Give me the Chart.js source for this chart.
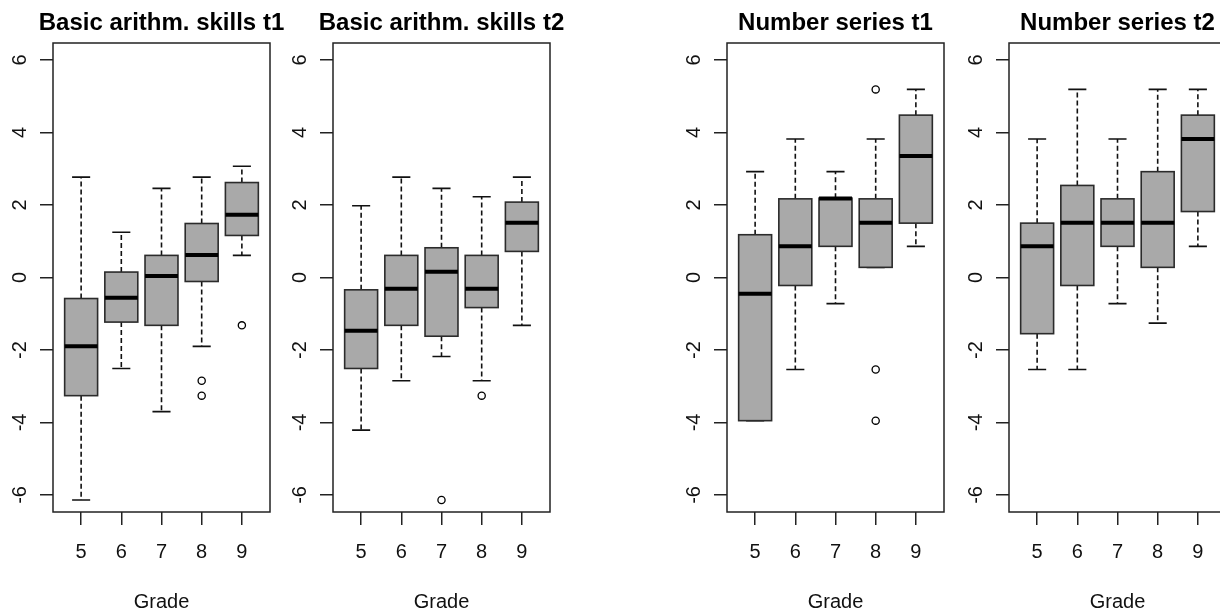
<!DOCTYPE html>
<html>
<head>
<meta charset="utf-8">
<script src="https://cdn.jsdelivr.net/npm/chart.js@4.4.1/dist/chart.umd.min.js"></script>
<style>
  html, body { margin: 0; padding: 0; background: #fff; overflow: hidden; width: 1220px; height: 615px; }
  canvas { position: absolute; top: 0; }
</style>
</head>
<body>
<canvas id="c1" width="310" height="615" style="left:0px"></canvas>
<canvas id="c2" width="310" height="615" style="left:280px"></canvas>
<canvas id="c3" width="310" height="615" style="left:674px"></canvas>
<canvas id="c4" width="310" height="615" style="left:956px"></canvas>
<script>
// categories and axis ticks
const grades = ['5', '6', '7', '8', '9'];
const yTicks = [-6, -4, -2, 0, 2, 4, 6];

// Basic arithm. skills t1
const basicT1Low = [-6.14, -2.51, -3.70, -1.90, 0.61];
const basicT1Q1 = [-3.26, -1.23, -1.32, -0.11, 1.16];
const basicT1Med = [-1.90, -0.56, 0.04, 0.62, 1.73];
const basicT1Q3 = [-0.58, 0.15, 0.61, 1.49, 2.62];
const basicT1High = [2.77, 1.25, 2.46, 2.77, 3.07];
const basicT1OutGrade = ['8', '8', '9'];
const basicT1OutValue = [-2.85, -3.26, -1.32];

// Basic arithm. skills t2
const basicT2Low = [-4.21, -2.85, -2.18, -2.85, -1.32];
const basicT2Q1 = [-2.51, -1.32, -1.62, -0.83, 0.72];
const basicT2Med = [-1.47, -0.31, 0.16, -0.31, 1.51];
const basicT2Q3 = [-0.34, 0.61, 0.82, 0.61, 2.08];
const basicT2High = [1.98, 2.77, 2.46, 2.23, 2.77];
const basicT2OutGrade = ['7', '8'];
const basicT2OutValue = [-6.14, -3.26];

// Number series t1
const seriesT1Low = [-3.95, -2.54, -0.72, 0.28, 0.86];
const seriesT1Q1 = [-3.95, -0.22, 0.86, 0.28, 1.50];
const seriesT1Med = [-0.45, 0.86, 2.18, 1.51, 3.35];
const seriesT1Q3 = [1.18, 2.17, 2.19, 2.17, 4.48];
const seriesT1High = [2.92, 3.82, 2.92, 3.82, 5.19];
const seriesT1OutGrade = ['8', '8', '8'];
const seriesT1OutValue = [5.19, -2.54, -3.95];

// Number series t2
const seriesT2Low = [-2.54, -2.54, -0.72, -1.26, 0.86];
const seriesT2Q1 = [-1.55, -0.22, 0.86, 0.28, 1.82];
const seriesT2Med = [0.86, 1.51, 1.51, 1.51, 3.82];
const seriesT2Q3 = [1.50, 2.54, 2.17, 2.92, 4.48];
const seriesT2High = [3.82, 5.19, 3.82, 5.19, 5.19];
const seriesT2OutGrade = [];
const seriesT2OutValue = [];

const boxWidth = 0.82;   // in x units
const capWidth = 0.45;

// draws whiskers, boxes and medians through the chart's own scales
const boxPlugin = {
  id: 'rbox',
  beforeDatasetsDraw(chart, args, opts) {
    const { ctx, scales: { x, y } } = chart;
    const unit = x.getPixelForValue(2) - x.getPixelForValue(1);
    ctx.save();
    grades.forEach((g, i) => {
      const px = x.getPixelForValue(i + 1);
      const bh = unit * boxWidth / 2;
      const ch = unit * capWidth / 2;
      const lo = y.getPixelForValue(opts.low[i]);
      const q1 = y.getPixelForValue(opts.q1[i]);
      const md = y.getPixelForValue(opts.med[i]);
      const q3 = y.getPixelForValue(opts.q3[i]);
      const hi = y.getPixelForValue(opts.high[i]);

      // whiskers
      ctx.strokeStyle = '#111';
      ctx.lineWidth = 1.6;
      ctx.setLineDash([5, 3]);
      ctx.beginPath();
      ctx.moveTo(px, q3); ctx.lineTo(px, hi);
      ctx.moveTo(px, q1); ctx.lineTo(px, lo);
      ctx.stroke();
      ctx.setLineDash([]);
      // staples
      ctx.beginPath();
      ctx.moveTo(px - ch, hi); ctx.lineTo(px + ch, hi);
      ctx.moveTo(px - ch, lo); ctx.lineTo(px + ch, lo);
      ctx.stroke();
      // box
      ctx.fillStyle = '#a9a9a9';
      ctx.fillRect(px - bh, q3, bh * 2, q1 - q3);
      ctx.strokeStyle = '#2b2b2b';
      ctx.lineWidth = 1.6;
      ctx.strokeRect(px - bh, q3, bh * 2, q1 - q3);
      // median
      ctx.strokeStyle = '#000';
      ctx.lineWidth = 4;
      ctx.beginPath();
      ctx.moveTo(px - bh, md); ctx.lineTo(px + bh, md);
      ctx.stroke();
    });
    ctx.restore();
  },
  afterDraw(chart, args, opts) {
    const { ctx, chartArea: a } = chart;
    ctx.save();
    ctx.strokeStyle = '#222';
    ctx.lineWidth = 1.5;
    ctx.strokeRect(a.left, a.top, a.right - a.left, a.bottom - a.top);
    ctx.fillStyle = '#000';
    ctx.font = 'bold 24px "Liberation Sans", Arial, sans-serif';
    ctx.textAlign = 'center';
    ctx.textBaseline = 'alphabetic';
    ctx.fillText(opts.title, (a.left + a.right) / 2, 30);
    ctx.restore();
  }
};

const font20 = { family: '"Liberation Sans", Arial, sans-serif', size: 20 };

function makeChart(id, title, low, q1, med, q3, high, outGrade, outValue) {
  const outliers = outGrade.map((g, k) => ({ x: grades.indexOf(g) + 1, y: outValue[k] }));
  return new Chart(document.getElementById(id), {
    type: 'scatter',
    data: {
      datasets: [{
        data: outliers,
        pointStyle: 'circle',
        pointRadius: 3.6,
        pointHoverRadius: 3.6,
        borderWidth: 1.3,
        borderColor: '#000',
        backgroundColor: 'rgba(0,0,0,0)'
      }]
    },
    options: {
      responsive: false,
      animation: false,
      events: [],
      layout: { padding: { top: 43, right: 40, left: 0, bottom: 0 } },
      plugins: {
        legend: { display: false },
        tooltip: { enabled: false },
        rbox: { title, low, q1, med, q3, high }
      },
      scales: {
        x: {
          type: 'linear',
          min: 0.3,
          max: 5.7,
          afterBuildTicks: s => { s.ticks = grades.map((g, i) => ({ value: i + 1 })); },
          afterFit: s => { s.height = 103; },
          border: { display: false },
          grid: { drawOnChartArea: false, drawTicks: true, tickLength: 13, color: '#222', lineWidth: 1.5 },
          ticks: {
            callback: v => grades[v - 1],
            autoSkip: false, maxRotation: 0,
            font: font20, color: '#111', padding: 15
          },
          title: { display: true, text: 'Grade', font: font20, color: '#111', padding: { top: 0, bottom: 1 } }
        },
        y: {
          type: 'linear',
          min: -6.47,
          max: 6.47,
          afterBuildTicks: s => { s.ticks = yTicks.map(v => ({ value: v })); },
          afterFit: s => { s.width = 53; },
          border: { display: false },
          grid: { drawOnChartArea: false, drawTicks: true, tickLength: 13, color: '#222', lineWidth: 1.5 },
          ticks: {
            minRotation: 90, maxRotation: 90,
            crossAlign: 'center',
            font: font20, color: '#111', padding: 11
          }
        }
      }
    },
    plugins: [boxPlugin]
  });
}

makeChart('c1', 'Basic arithm. skills t1', basicT1Low, basicT1Q1, basicT1Med, basicT1Q3, basicT1High, basicT1OutGrade, basicT1OutValue);
makeChart('c2', 'Basic arithm. skills t2', basicT2Low, basicT2Q1, basicT2Med, basicT2Q3, basicT2High, basicT2OutGrade, basicT2OutValue);
makeChart('c3', 'Number series t1', seriesT1Low, seriesT1Q1, seriesT1Med, seriesT1Q3, seriesT1High, seriesT1OutGrade, seriesT1OutValue);
makeChart('c4', 'Number series t2', seriesT2Low, seriesT2Q1, seriesT2Med, seriesT2Q3, seriesT2High, seriesT2OutGrade, seriesT2OutValue);
</script>
</body>
</html>
